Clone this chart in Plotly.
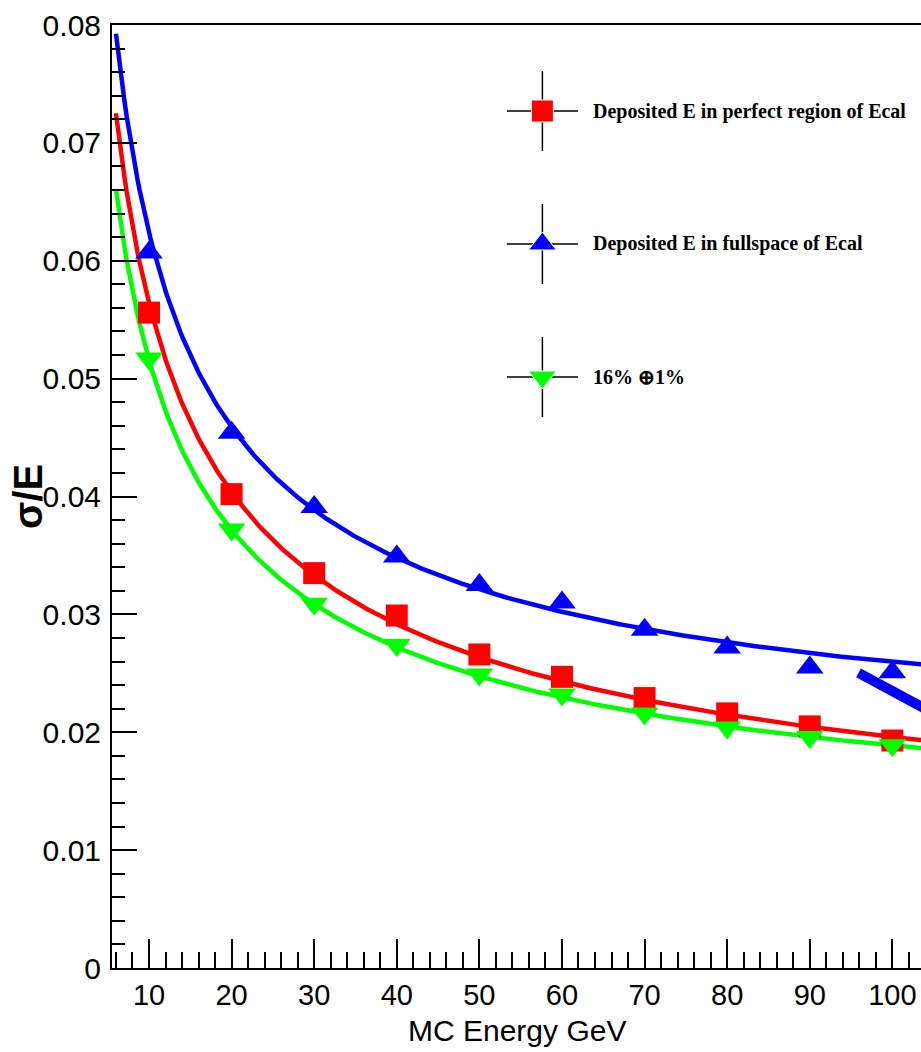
import numpy as np
import plotly.graph_objects as go

# Beam energies (GeV)
energy = [10, 20, 30, 40, 50, 60, 70, 80, 90, 100]

# Relative energy resolution sigma/E
res_perfect = [0.0556, 0.0402, 0.0335, 0.0299, 0.0266, 0.0247, 0.0229, 0.0216, 0.0205, 0.0193]
res_full = [0.0607, 0.0454, 0.0391, 0.0349, 0.0325, 0.0310, 0.0287, 0.0272, 0.0255, 0.0251]
res_ref = [0.0517, 0.0372, 0.0309, 0.0274, 0.0249, 0.0232, 0.0216, 0.0204, 0.0196, 0.0189]

# Fit parameters of sigma/E = a/sqrt(E) (+) b  (stochastic, constant)
fit_perfect = [0.1764, 0.00854]
fit_full = [0.1892, 0.01778]
fit_ref = [0.16, 0.01]
fit_range = [6.0, 110.0]

# Extra thick blue segment on the right-hand side
seg_x = [95.9, 106.0]
seg_y = [0.02503, 0.02123]

legend_labels = [
    "Deposited E in perfect region of Ecal",
    "Deposited E in fullspace of Ecal",
    "16% \u22951%",
]

RED, BLUE, GREEN = "#ff0000", "#0000ff", "#00ff00"


def resolution(e, pars):
    a, b = pars
    return np.sqrt((a / np.sqrt(e)) ** 2 + b ** 2)


e_fine = np.linspace(fit_range[0], fit_range[1], 400)

fig = go.Figure()

# fitted curves
for pars, col in [(fit_full, BLUE), (fit_perfect, RED), (fit_ref, GREEN)]:
    fig.add_trace(go.Scatter(x=e_fine, y=resolution(e_fine, pars), mode="lines",
                             line=dict(color=col, width=4.5), showlegend=False,
                             hoverinfo="skip"))

fig.add_trace(go.Scatter(x=seg_x, y=seg_y, mode="lines",
                         line=dict(color=BLUE, width=10), showlegend=False,
                         hoverinfo="skip"))

# measured points
fig.add_trace(go.Scatter(x=energy, y=res_perfect, mode="markers", name=legend_labels[0],
                         marker=dict(symbol="square", size=22, color=RED), showlegend=False))
fig.add_trace(go.Scatter(x=energy, y=res_full, mode="markers", name=legend_labels[1],
                         marker=dict(symbol="triangle-up", size=24, color=BLUE), showlegend=False))
fig.add_trace(go.Scatter(x=energy, y=res_ref, mode="markers", name=legend_labels[2],
                         marker=dict(symbol="triangle-down", size=24, color=GREEN), showlegend=False))

# hand-drawn legend: error-bar cross, marker and label per entry
leg_x = 0.532
leg_rows = [0.9088, 0.7678, 0.6267]
leg_symbols = ["square", "triangle-up", "triangle-down"]
leg_sizes = [22, 24, 24]
leg_colors = [RED, BLUE, GREEN]
half_w, half_h = 0.0439, 0.0424
for yr in leg_rows:
    fig.add_shape(type="line", xref="paper", yref="paper", x0=leg_x - half_w, x1=leg_x + half_w,
                  y0=yr, y1=yr, line=dict(color="black", width=1.5), layer="below")
    fig.add_shape(type="line", xref="paper", yref="paper", x0=leg_x, x1=leg_x,
                  y0=yr - half_h, y1=yr + half_h, line=dict(color="black", width=1.5),
                  layer="below")
fig.add_trace(go.Scatter(x=[leg_x] * 3, y=leg_rows, mode="markers", xaxis="x2", yaxis="y2",
                         marker=dict(symbol=leg_symbols, size=leg_sizes, color=leg_colors,
                                     opacity=1),
                         showlegend=False, hoverinfo="skip"))
for yr, txt in zip(leg_rows, legend_labels):
    fig.add_annotation(x=0.592, y=yr, xref="paper", yref="paper", text="<b>" + txt + "</b>",
                       showarrow=False, xanchor="left", yanchor="middle",
                       font=dict(family="Liberation Serif, Times New Roman, serif", size=20,
                                 color="black"))

axis_font = dict(family="Liberation Sans, Arial, Helvetica, sans-serif", size=29, color="black")

fig.update_layout(
    width=921, height=1052,
    margin=dict(l=112, r=0, t=25, b=84),
    paper_bgcolor="white", plot_bgcolor="white",
    showlegend=False,
    xaxis=dict(range=[5.52, 103.47], tick0=0, dtick=10, ticks="inside", ticklen=29,
               tickwidth=1.5, tickcolor="black", showline=True, linewidth=2, linecolor="black",
               mirror=True, showgrid=False, zeroline=False, tickfont=axis_font,
               ticklabelstandoff=0,
               minor=dict(dtick=2, tick0=0, ticks="inside", ticklen=16, tickwidth=1.5,
                          tickcolor="black", showgrid=False)),
    yaxis=dict(range=[0, 0.08], tick0=0, dtick=0.01, ticks="inside", ticklen=25,
               tickwidth=1.5, tickcolor="black", showline=True, linewidth=2, linecolor="black",
               showgrid=False, zeroline=False, tickfont=dict(axis_font, size=30),
               ticklabelstandoff=3,
               minor=dict(dtick=0.002, tick0=0, ticks="inside", ticklen=13, tickwidth=1.5,
                          tickcolor="black", showgrid=False)),
    xaxis2=dict(range=[0, 1], overlaying="x", visible=False, fixedrange=True),
    yaxis2=dict(range=[0, 1], overlaying="y", visible=False, fixedrange=True),
)

fig.add_annotation(x=0.5, y=-0.0668, xref="paper", yref="paper", text="MC Energy GeV",
                   showarrow=False, xanchor="center", yanchor="middle",
                   font=dict(axis_font, size=30))
fig.add_annotation(x=-0.1038, y=0.4995, xref="paper", yref="paper", text="<b>\u03c3/E</b>",
                   showarrow=False, textangle=-90, xanchor="center", yanchor="middle",
                   font=dict(family="Liberation Sans, Arial, sans-serif", size=40, color="black"))

fig.write_html("out.html")
